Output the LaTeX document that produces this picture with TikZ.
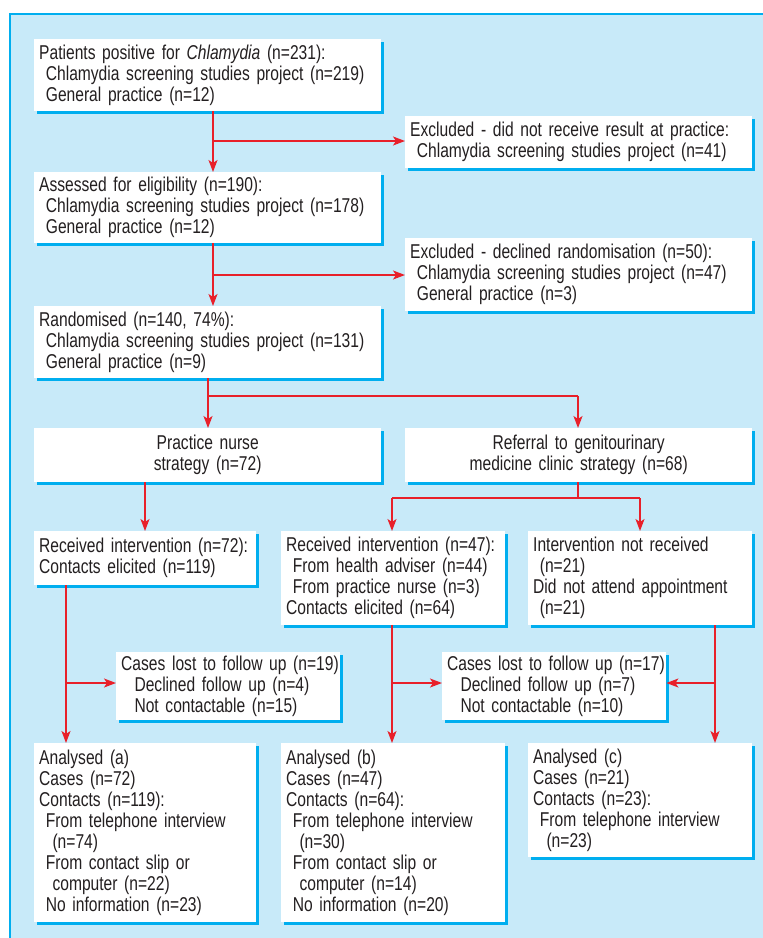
\documentclass[tikz,border=0pt]{standalone}
\usepackage{fontspec}
\setmainfont{Liberation Sans}[FakeStretch=0.78]
\usetikzlibrary{arrows.meta,shadows}
\definecolor{panelc}{HTML}{C8EAF9}
\definecolor{cyanc}{HTML}{00AEEF}
\definecolor{redc}{HTML}{E8202A}
\definecolor{txtc}{HTML}{231F20}
\tikzset{
  boxst/.style={fill=white, draw=none, anchor=north west, inner xsep=5pt, inner ysep=0pt,
    align=left, text=txtc, font=\fontsize{20}{21}\selectfont,
    drop shadow={shadow xshift=3pt, shadow yshift=-3pt, fill=cyanc, opacity=1}},
  cbox/.style={boxst, align=center},
  arr/.style={draw=redc, line width=1.6pt, -{Stealth[length=12pt,width=9pt,inset=3pt]}},
  ln/.style={draw=redc, line width=1.6pt}
}
\begin{document}
\begin{tikzpicture}[x=1pt,y=-1pt]
\useasboundingbox (0,0) rectangle (763,938);
\fill[panelc] (10,14) rectangle (763,938);
\draw[cyanc, line width=2pt] (10,938) -- (10,14) -- (763,14);

\node[boxst, minimum width=347pt, minimum height=72pt, text width=337pt] (b1) at (34,39)
 {\mbox{Patients positive for \textit{Chlamydia} (n=231):}\\\mbox{\ Chlamydia screening studies project (n=219)}\\\ General practice (n=12)};
\node[boxst, minimum width=347pt, minimum height=52pt, text width=337pt] (b2) at (405,116)
 {\mbox{Excluded - did not receive result at practice:}\\\mbox{\ Chlamydia screening studies project (n=41)}};
\node[boxst, minimum width=347pt, minimum height=71pt, text width=337pt] (b3) at (34,172)
 {Assessed for eligibility (n=190):\\\mbox{\ Chlamydia screening studies project (n=178)}\\\ General practice (n=12)};
\node[boxst, minimum width=347pt, minimum height=73pt, text width=337pt] (b4) at (405,238)
 {Excluded - declined randomisation (n=50):\\\mbox{\ Chlamydia screening studies project (n=47)}\\\ General practice (n=3)};
\node[boxst, minimum width=347pt, minimum height=72pt, text width=337pt] (b5) at (34,306)
 {Randomised (n=140, 74\%):\\\mbox{\ Chlamydia screening studies project (n=131)}\\\ General practice (n=9)};
\node[cbox, minimum width=347pt, minimum height=54pt, text width=337pt] (b6) at (34,428)
 {Practice nurse\\strategy (n=72)};
\node[cbox, minimum width=347pt, minimum height=54pt, text width=337pt] (b7) at (405,428)
 {Referral to genitourinary\\medicine clinic strategy (n=68)};
\node[boxst, minimum width=222pt, minimum height=54pt, text width=212pt] (b8) at (34,531)
 {\mbox{Received intervention (n=72):}\\Contacts elicited (n=119)};
\node[boxst, minimum width=224pt, minimum height=94pt, text width=214pt] (b9) at (281,531)
 {\mbox{Received intervention (n=47):}\\\ From health adviser (n=44)\\\ From practice nurse (n=3)\\Contacts elicited (n=64)};
\node[boxst, minimum width=224pt, minimum height=94pt, text width=214pt] (b10) at (528,531)
 {Intervention not received\\\ (n=21)\\\mbox{Did not attend appointment}\\\ (n=21)};
\node[boxst, minimum width=224pt, minimum height=68pt, text width=214pt] (b11) at (116,652)
 {\mbox{Cases lost to follow up (n=19)}\\\ \ Declined follow up (n=4)\\\ \ Not contactable (n=15)};
\node[boxst, minimum width=224pt, minimum height=68pt, text width=214pt] (b12) at (442,652)
 {\mbox{Cases lost to follow up (n=17)}\\\ \ Declined follow up (n=7)\\\ \ Not contactable (n=10)};
\node[boxst, minimum width=222pt, minimum height=179pt, text width=212pt] (b13) at (34,743)
 {Analysed (a)\\Cases (n=72)\\Contacts (n=119):\\\ From telephone interview\\\ \ (n=74)\\\ From contact slip or\\\ \ computer (n=22)\\\ No information (n=23)};
\node[boxst, minimum width=224pt, minimum height=179pt, text width=214pt] (b14) at (281,743)
 {Analysed (b)\\Cases (n=47)\\Contacts (n=64):\\\ From telephone interview\\\ \ (n=30)\\\ From contact slip or\\\ \ computer (n=14)\\\ No information (n=20)};
\node[boxst, minimum width=224pt, minimum height=114pt, text width=214pt] (b15) at (528,743)
 {Analysed (c)\\Cases (n=21)\\Contacts (n=23):\\\ From telephone interview\\\ \ (n=23)};

% junctions
\coordinate (j1) at (213,141);
\coordinate (j2) at (213,275);
\coordinate (j3) at (208,396);
\coordinate (j3r) at (578,396);
\coordinate (x4) at (145,0);
\coordinate (j5) at (578,498);
\coordinate (j5l) at (392,498);
\coordinate (j5r) at (640,498);
\coordinate (k1) at (66,683);
\coordinate (k2) at (392,683);
\coordinate (k3) at (715,683);

\draw[arr] (b1.south -| j1) -- (b3.north -| j1);
\draw[arr] (j1) -- (j1 -| b2.west);
\draw[arr] (b3.south -| j2) -- (b5.north -| j2);
\draw[arr] (j2) -- (j2 -| b4.west);
\draw[ln] (b5.south -| j3) -- (j3) -- (j3r);
\draw[arr] (j3) -- (b6.north -| j3);
\draw[arr] (j3r) -- (b7.north -| j3r);
\draw[arr] (b6.south -| x4) -- (b8.north -| x4);
\draw[ln] (b7.south -| j5) -- (j5);
\draw[ln] (j5l) -- (j5r);
\draw[arr] (j5l) -- (b9.north -| j5l);
\draw[arr] (j5r) -- (b10.north -| j5r);
\draw[arr] (b8.south -| k1) -- (b13.north -| k1);
\draw[arr] (k1) -- (k1 -| b11.west);
\draw[arr] (b9.south -| k2) -- (b14.north -| k2);
\draw[arr] (k2) -- (k2 -| b12.west);
\draw[arr] (b10.south -| k3) -- (b15.north -| k3);
\draw[arr] (k3) -- (k3 -| b12.east);
\end{tikzpicture}
\end{document}
